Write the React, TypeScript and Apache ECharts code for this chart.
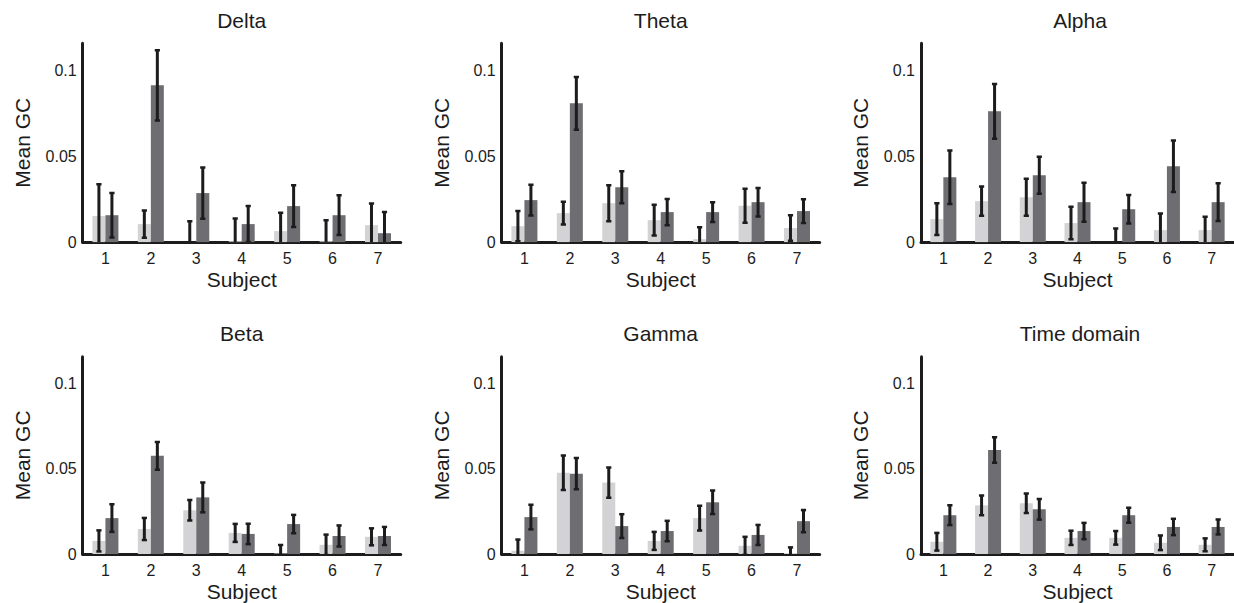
import React, { useEffect, useRef } from "react";
import * as echarts from "echarts";

const subjects = ["1", "2", "3", "4", "5", "6", "7"];
const panelTitles = ["Delta", "Theta", "Alpha", "Beta", "Gamma", "Time domain"];
const yTickLabels = ["0", "0.05", "0.1"];

const deltaLight = [0.0152, 0.0105, 0.0, 0.0005, 0.0064, 0.0005, 0.0099];
const deltaLightErr = [0.0186, 0.008, 0.0122, 0.0133, 0.0107, 0.0123, 0.0126];
const deltaDark = [0.0157, 0.0915, 0.0286, 0.0105, 0.021, 0.0157, 0.0052];
const deltaDarkErr = [0.013, 0.0205, 0.015, 0.0105, 0.0122, 0.0116, 0.0123];

const thetaLight = [0.0093, 0.0169, 0.0227, 0.0128, 0.0017, 0.0212, 0.0082];
const thetaLightErr = [0.0088, 0.0066, 0.0105, 0.009, 0.007, 0.0099, 0.0074];
const thetaDark = [0.0245, 0.081, 0.032, 0.0175, 0.0175, 0.0233, 0.0181];
const thetaDarkErr = [0.009, 0.0154, 0.0094, 0.0076, 0.0058, 0.0083, 0.0069];

const alphaLight = [0.0134, 0.0239, 0.0262, 0.0111, 0.0, 0.007, 0.007];
const alphaLightErr = [0.0092, 0.0085, 0.0108, 0.0095, 0.008, 0.0097, 0.0078];
const alphaDark = [0.0379, 0.0763, 0.039, 0.0233, 0.0192, 0.0443, 0.0233];
const alphaDarkErr = [0.0156, 0.016, 0.0108, 0.0114, 0.0083, 0.015, 0.011];

const betaLight = [0.0077, 0.0147, 0.0257, 0.0124, 0.0003, 0.0054, 0.0101];
const betaLightErr = [0.0062, 0.0065, 0.006, 0.0053, 0.005, 0.006, 0.005];
const betaDark = [0.0211, 0.0577, 0.0333, 0.0118, 0.0176, 0.0106, 0.0106];
const betaDarkErr = [0.0081, 0.0082, 0.0088, 0.006, 0.0054, 0.0062, 0.0053];

const gammaLight = [0.0019, 0.0478, 0.042, 0.0077, 0.0211, 0.0048, 0.0006];
const gammaLightErr = [0.0066, 0.0101, 0.0089, 0.0053, 0.0073, 0.0053, 0.0033];
const gammaDark = [0.0217, 0.0472, 0.0164, 0.0135, 0.0304, 0.0112, 0.0193];
const gammaDarkErr = [0.0072, 0.0092, 0.007, 0.006, 0.0069, 0.0059, 0.0065];

const timeLight = [0.0072, 0.0286, 0.0298, 0.0095, 0.0095, 0.0066, 0.0054];
const timeLightErr = [0.0052, 0.0058, 0.0057, 0.0042, 0.004, 0.0043, 0.0038];
const timeDark = [0.0228, 0.0611, 0.0263, 0.0135, 0.0228, 0.0159, 0.0159];
const timeDarkErr = [0.0058, 0.0075, 0.0061, 0.0048, 0.0044, 0.0048, 0.0044];

const lightSeries = [deltaLight, thetaLight, alphaLight, betaLight, gammaLight, timeLight];
const lightErrors = [deltaLightErr, thetaLightErr, alphaLightErr, betaLightErr, gammaLightErr, timeLightErr];
const darkSeries = [deltaDark, thetaDark, alphaDark, betaDark, gammaDark, timeDark];
const darkErrors = [deltaDarkErr, thetaDarkErr, alphaDarkErr, betaDarkErr, gammaDarkErr, timeDarkErr];

const FONT = "'Liberation Sans', Arial, Helvetica, sans-serif";
const INK = "#1c1c1c";
const LIGHT = "#d3d3d5";
const DARK = "#6e6e72";
const BAR_W = 13;

const gridLefts = [82.7, 501.7, 921];
const gridTops = [43.3, 356.7];
const GRID_W = 318;
const GRID_H = 198.8;

function errorBarSeries(idx: number, means: number[], errs: number[], offset: number) {
  const data = means.map((m, i) => [i, m - errs[i], m + errs[i]]);
  return {
    type: "custom",
    xAxisIndex: idx,
    yAxisIndex: idx,
    clip: true,
    z: 5,
    data,
    renderItem: (params: any, api: any) => {
      const i = api.value(0);
      const lo = api.coord([i, api.value(1)]);
      const hi = api.coord([i, api.value(2)]);
      const x = lo[0] + offset;
      const cap = 2.6;
      const style = { stroke: INK, lineWidth: 3 };
      return {
        type: "group",
        children: [
          { type: "line", shape: { x1: x, y1: lo[1], x2: x, y2: hi[1] }, style },
          { type: "line", shape: { x1: x - cap, y1: hi[1], x2: x + cap, y2: hi[1] }, style: { stroke: INK, lineWidth: 2.5 } },
          { type: "line", shape: { x1: x - cap, y1: lo[1], x2: x + cap, y2: lo[1] }, style: { stroke: INK, lineWidth: 2.5 } },
        ],
      };
    },
  };
}

export default function App() {
  const ref = useRef<HTMLDivElement>(null);

  useEffect(() => {
    if (!ref.current) return;
    const chart = echarts.init(ref.current, null, { renderer: "svg" });

    const grids: any[] = [];
    const xAxes: any[] = [];
    const yAxes: any[] = [];
    const series: any[] = [];
    const graphics: any[] = [];

    panelTitles.forEach((title, idx) => {
      const col = idx % 3;
      const row = Math.floor(idx / 3);
      const left = gridLefts[col];
      const top = gridTops[row];
      grids.push({ left, top, width: GRID_W, height: GRID_H, containLabel: false });
      xAxes.push({
        type: "category",
        gridIndex: idx,
        data: subjects,
        boundaryGap: true,
        name: "Subject",
        nameLocation: "middle",
        nameGap: 27,
        nameTextStyle: { fontFamily: FONT, fontSize: 21, color: INK },
        axisLine: { show: true, lineStyle: { color: INK, width: 3 } },
        axisTick: { show: false },
        axisLabel: { fontFamily: FONT, fontSize: 16, color: INK, margin: 8 },
        splitLine: { show: false },
      });
      yAxes.push({
        type: "value",
        gridIndex: idx,
        min: 0,
        max: 0.116,
        interval: 0.05,
        name: "Mean GC",
        nameLocation: "middle",
        nameGap: 50,
        nameTextStyle: { fontFamily: FONT, fontSize: 21, color: INK },
        axisLine: { show: true, lineStyle: { color: INK, width: 3 } },
        axisTick: { show: false },
        splitLine: { show: false },
        axisLabel: {
          fontFamily: FONT,
          fontSize: 16,
          color: INK,
          margin: 6,
          formatter: (v: number) => {
            const k = Math.round(v / 0.05);
            if (Math.abs(v - k * 0.05) > 1e-6 || k > 2) return "";
            return yTickLabels[k];
          },
        },
      });
      series.push({
        type: "bar",
        xAxisIndex: idx,
        yAxisIndex: idx,
        data: lightSeries[idx],
        barWidth: BAR_W,
        barGap: "0%",
        itemStyle: { color: LIGHT },
        z: 2,
      });
      series.push({
        type: "bar",
        xAxisIndex: idx,
        yAxisIndex: idx,
        data: darkSeries[idx],
        barWidth: BAR_W,
        barGap: "0%",
        itemStyle: { color: DARK },
        z: 2,
      });
      series.push(errorBarSeries(idx, lightSeries[idx], lightErrors[idx], -BAR_W / 2));
      series.push(errorBarSeries(idx, darkSeries[idx], darkErrors[idx], BAR_W / 2));

      graphics.push({
        type: "text",
        x: left + GRID_W / 2,
        y: row === 0 ? 20.7 : 333.5,
        style: {
          text: title,
          fill: INK,
          font: `21px ${FONT}`,
          align: "center",
          verticalAlign: "middle",
        },
      });
    });

    chart.setOption({
      animation: false,
      backgroundColor: "#ffffff",
      grid: grids,
      xAxis: xAxes,
      yAxis: yAxes,
      series,
      graphic: graphics,
    });

    return () => chart.dispose();
  }, []);

  return (
    <div
      ref={ref}
      style={{ position: "fixed", left: 0, top: 0, width: 1234, height: 603, background: "#fff" }}
    />
  );
}
